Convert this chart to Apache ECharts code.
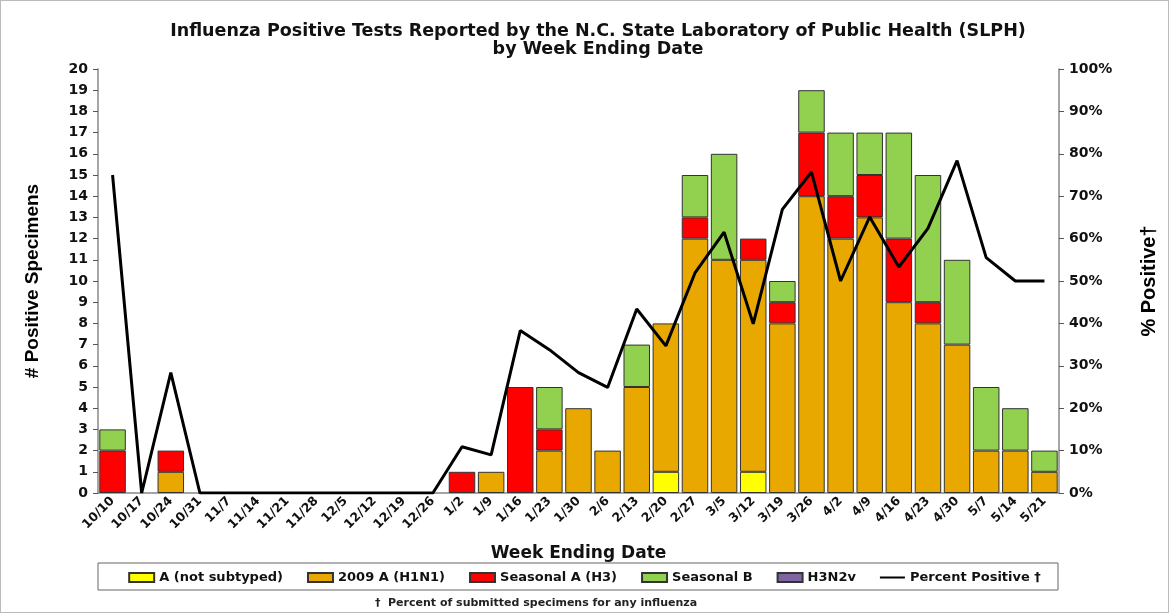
<!DOCTYPE html>
<html>
<head>
<meta charset="utf-8">
<script src="https://cdn.jsdelivr.net/npm/echarts@6/dist/echarts.min.js"></script>
<style>
  html, body { margin: 0; padding: 0; background: #fff; }
  #chart { width: 1169px; height: 613px; box-sizing: border-box; border: 1px solid #bbb; }
</style>
</head>
<body>
<div id="chart"></div>
<script>
// week ending dates
var weeks = ['10/10','10/17','10/24','10/31','11/7','11/14','11/21','11/28','12/5','12/12','12/19','12/26',
  '1/2','1/9','1/16','1/23','1/30','2/6','2/13','2/20','2/27','3/5','3/12','3/19','3/26','4/2','4/9','4/16',
  '4/23','4/30','5/7','5/14','5/21'];

// specimen counts by type
var notSubtyped = [0,0,0,0,0,0,0,0,0,0,0,0, 0,0,0,0,0,0,0,1,0,0,1,0,0,0,0,0,0,0,0,0,0];
var h1n1        = [0,0,1,0,0,0,0,0,0,0,0,0, 0,1,0,2,4,2,5,7,12,11,10,8,14,12,13,9,8,7,2,2,1];
var seasonalA   = [2,0,1,0,0,0,0,0,0,0,0,0, 1,0,5,1,0,0,0,0,1,0,1,1,3,2,2,3,1,0,0,0,0];
var seasonalB   = [1,0,0,0,0,0,0,0,0,0,0,0, 0,0,0,2,0,0,2,0,2,5,0,1,2,3,2,5,6,4,3,2,1];
var h3n2v       = [0,0,0,0,0,0,0,0,0,0,0,0, 0,0,0,0,0,0,0,0,0,0,0,0,0,0,0,0,0,0,0,0,0];

// percent positive
var pctPositive = [75,0,28.4,0,0,0,0,0,0,0,0,0, 10.9,9,38.3,33.8,28.4,24.9,43.4,34.7,51.9,61.5,39.9,66.9,75.7,
  50,65.1,53.3,62.4,78.4,55.5,50,50];

var arial = 'Arial, "Liberation Sans", sans-serif';
var wide = '"DejaVu Sans", Verdana, sans-serif';
// thin horizontal bar inside a 25x9 box, for the line's legend entry
var lineIcon = 'path://M0,0 M25,9 M0,3.5 L25,3.5 L25,5.5 L0,5.5 Z';

function barSeries(name, data, color) {
    return {
        name: name,
        type: 'bar',
        stack: 'flu',
        barCategoryGap: '9%',
        data: data.map(function (v) { return v === 0 ? null : v; }),
        itemStyle: { color: color, borderColor: '#333', borderWidth: 1 }
    };
}

var chart = echarts.init(document.getElementById('chart'));
chart.setOption({
    animation: false,
    textStyle: { fontFamily: wide },
    title: {
        text: 'Influenza Positive Tests Reported by the N.C. State Laboratory of Public Health (SLPH)\nby Week Ending Date',
        left: 592,
        textAlign: 'center',
        top: 16,
        textStyle: { fontSize: 17.5, fontWeight: 'bold', color: '#111', lineHeight: 18, fontFamily: wide }
    },
    grid: { left: 97, right: 109, top: 68, bottom: 119 },
    legend: {
        top: 565,
        left: 'center',
        itemWidth: 25,
        itemHeight: 9,
        itemGap: 24,
        textStyle: { fontSize: 13, fontWeight: 'bold', color: '#111', fontFamily: wide },
        data: [
            { name: 'A (not subtyped)', icon: 'rect' },
            { name: '2009 A (H1N1)', icon: 'rect' },
            { name: 'Seasonal A (H3)', icon: 'rect' },
            { name: 'Seasonal B', icon: 'rect' },
            { name: 'H3N2v', icon: 'rect' },
            { name: 'Percent Positive \u2020', icon: lineIcon, itemStyle: { color: '#000', borderWidth: 0 } }]
    },
    graphic: [
        { type: 'rect', shape: { x: 97, y: 562, width: 960, height: 27 },
          style: { fill: 'none', stroke: '#666', lineWidth: 1 } },
        { type: 'text', x: 535, y: 597,
          style: { text: '\u2020  Percent of submitted specimens for any influenza', align: 'center',
                   font: 'bold 11px ' + wide, fill: '#222' } }
    ],
    xAxis: {
        type: 'category',
        data: weeks,
        name: 'Week Ending Date',
        nameLocation: 'middle',
        nameGap: 52,
        nameTextStyle: { fontSize: 17, fontWeight: 'bold', color: '#111', fontFamily: wide },
        axisLine: { lineStyle: { color: '#888', width: 1.5 } },
        axisTick: { length: 5, lineStyle: { color: '#555' } },
        axisLabel: { interval: 0, rotate: 45, fontSize: 12.5, fontWeight: 'bold', color: '#111', margin: 6 }
    },
    yAxis: [{
        type: 'value',
        min: 0,
        max: 20,
        interval: 1,
        name: '# Positive Specimens',
        nameLocation: 'middle',
        nameRotate: 90,
        nameGap: 56,
        nameTextStyle: { fontSize: 19, fontWeight: 'bold', color: '#000', fontFamily: arial },
        splitLine: { show: false },
        axisLine: { show: true, lineStyle: { color: '#888', width: 1.5 } },
        axisTick: { show: true, length: 5, lineStyle: { color: '#555' } },
        axisLabel: { fontSize: 14, fontWeight: 'bold', color: '#111', margin: 10 }
    }, {
        type: 'value',
        min: 0,
        max: 100,
        interval: 10,
        name: '% Positive\u2020',
        nameLocation: 'middle',
        nameRotate: 90,
        nameGap: 80,
        nameTextStyle: { fontSize: 20, fontWeight: 'bold', color: '#000', fontFamily: arial },
        splitLine: { show: false },
        axisLine: { show: true, lineStyle: { color: '#888', width: 1.5 } },
        axisTick: { show: true, length: 5, lineStyle: { color: '#555' } },
        axisLabel: { formatter: '{value}%', fontSize: 14, fontWeight: 'bold', color: '#111', margin: 10 }
    }],
    series: [
        barSeries('A (not subtyped)', notSubtyped, '#ffff00'),
        barSeries('2009 A (H1N1)', h1n1, '#e8a800'),
        barSeries('Seasonal A (H3)', seasonalA, '#ff0000'),
        barSeries('Seasonal B', seasonalB, '#92d050'),
        barSeries('H3N2v', h3n2v, '#8064a2'),
        {
            name: 'Percent Positive \u2020',
            type: 'line',
            yAxisIndex: 1,
            data: pctPositive,
            showSymbol: false,
            symbol: 'none',
            lineStyle: { color: '#000', width: 3 },
            itemStyle: { color: '#000' },
            z: 5
        }
    ]
});
</script>
</body>
</html>
